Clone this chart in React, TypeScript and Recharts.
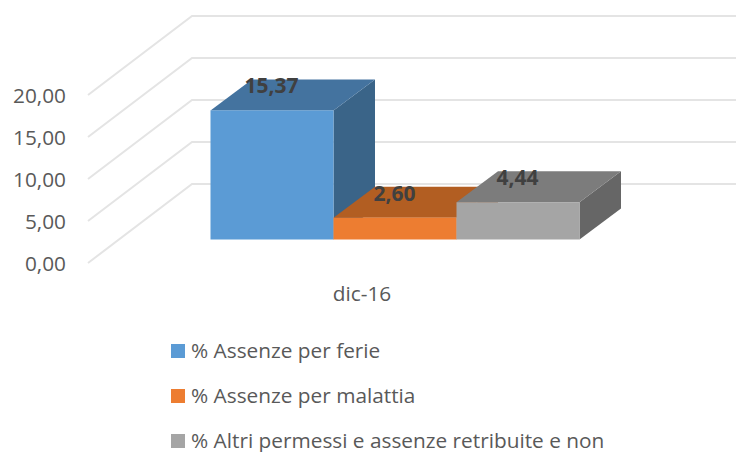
import React from "react";
import { BarChart, Bar, XAxis, YAxis, CartesianGrid, LabelList, Legend } from "recharts";

const categories = ["dic-16"];
const ferie = [15.37];
const malattia = [2.6];
const altri = [4.44];
const yTicks = [0, 5, 10, 15, 20];
const seriesNames = ["% Assenze per ferie", "% Assenze per malattia", "% Altri permessi e assenze retribuite e non"];

const rows = categories.map((c, i) => ({ name: c, ferie: ferie[i], malattia: malattia[i], altri: altri[i] }));

const FONT = "'Open Sans', sans-serif";
const SHIFT_X = 30.5, SHIFT_Y = -23.5; // gap between front plane of the wall and the bars
const DEPTH_X = 41.5, DEPTH_Y = -31;   // depth of the bars
const WALL_X = 104, WALL_Y = -79;      // depth of the walls
const fmt = (v: number) => v.toFixed(2).replace(".", ",");

const make3D = (front: string, top: string, side: string) => (p: any) => {
  const x = p.x + SHIFT_X, y = p.y + SHIFT_Y, w = p.width, h = p.height;
  const pts = (a: number[][]) => a.map((q) => q.join(",")).join(" ");
  return (
    <g>
      <polygon fill={side} points={pts([[x + w, y], [x + w + DEPTH_X, y + DEPTH_Y], [x + w + DEPTH_X, y + h + DEPTH_Y], [x + w, y + h]])} />
      <polygon fill={top} points={pts([[x, y], [x + DEPTH_X, y + DEPTH_Y], [x + w + DEPTH_X, y + DEPTH_Y], [x + w, y]])} />
      <rect x={x} y={y} width={w} height={h} fill={front} />
    </g>
  );
};

const valueLabel = (p: any) => (
  <text
    x={p.x + p.width / 2 + SHIFT_X - 0.5}
    y={p.y + SHIFT_Y - 25}
    textAnchor="middle"
    dominantBaseline="central"
    fontFamily={FONT}
    fontWeight={700}
    fontSize={21}
    fill="#404040"
  >
    {fmt(Number(p.value))}
  </text>
);

const gridLine = (p: any) => (
  <polyline
    key={p.key ?? p.y1}
    points={`${p.x1},${p.y1} ${p.x1 + WALL_X},${p.y1 + WALL_Y} ${p.x2 + WALL_X},${p.y1 + WALL_Y}`}
    fill="none"
    stroke="#E4E4E4"
    strokeWidth={2}
  />
);

const colors = ["#5B9BD5", "#ED7D31", "#A5A5A5"];

const legendContent = () => (
  <div style={{ fontFamily: FONT, fontSize: 20.8, lineHeight: 1, color: "#595959" }}>
    {seriesNames.map((n, i) => (
      <div
        key={n}
        style={{ display: "flex", alignItems: "center", height: 22, marginBottom: i < 2 ? 23 : 0, whiteSpace: "nowrap" }}
      >
        <span style={{ width: 14, height: 14, background: colors[i], marginRight: 6, flex: "none" }} />
        <span>{n}</span>
      </div>
    ))}
  </div>
);

export default function App() {
  return (
    <div style={{ position: "absolute", left: 0, top: 0, width: 736, height: 452 }}>
      <BarChart
        width={736}
        height={452}
        data={rows}
        barSize={123}
        barGap={0}
        margin={{ top: 95, right: 96, bottom: 0, left: 0 }}
      >
        <CartesianGrid vertical={false} horizontal={gridLine} />
        <XAxis
          dataKey="name"
          height={77}
          axisLine={false}
          tickLine={false}
          tickMargin={17}
          tick={{ fontFamily: FONT, fontSize: 20.8, fill: "#595959", dx: -2 }}
        />
        <YAxis
          width={88}
          domain={[0, 20]}
          ticks={yTicks}
          tickFormatter={fmt}
          axisLine={false}
          tickLine={false}
          tickSize={0}
          tickMargin={22}
          tick={{ fontFamily: FONT, fontSize: 20.8, fill: "#595959", dy: 1 }}
        />
        <Legend
          content={legendContent}
          layout="horizontal"
          verticalAlign="bottom"
          align="left"
          height={135}
          wrapperStyle={{ left: 171, top: 339.5, bottom: "auto", width: 520, height: 112 }}
        />
        <Bar dataKey="ferie" name={seriesNames[0]} isAnimationActive={false} shape={make3D("#5B9BD5", "#44739F", "#3A6488")}>
          <LabelList dataKey="ferie" content={valueLabel} />
        </Bar>
        <Bar dataKey="malattia" name={seriesNames[1]} isAnimationActive={false} shape={make3D("#ED7D31", "#B25E22", "#9E531E")}>
          <LabelList dataKey="malattia" content={valueLabel} />
        </Bar>
        <Bar dataKey="altri" name={seriesNames[2]} isAnimationActive={false} shape={make3D("#A5A5A5", "#7C7C7C", "#666666")}>
          <LabelList dataKey="altri" content={valueLabel} />
        </Bar>
      </BarChart>
    </div>
  );
}
